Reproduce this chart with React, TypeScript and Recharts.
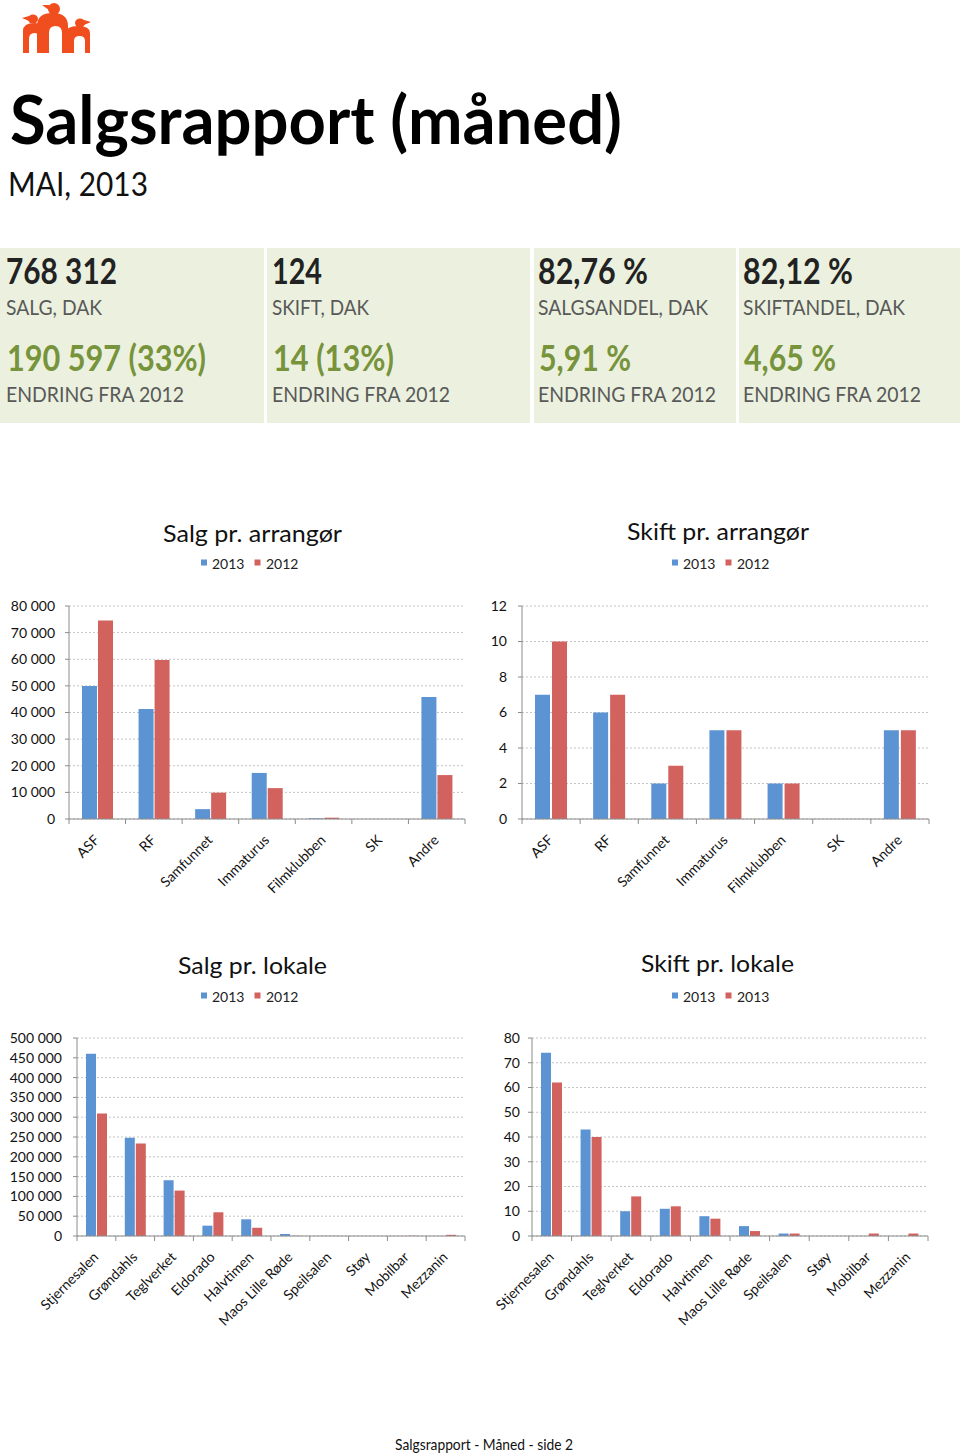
import React from 'react';
import { BarChart, Bar, XAxis, YAxis, CartesianGrid } from 'recharts';

// ---------- data ----------
const arrangorer = ['ASF', 'RF', 'Samfunnet', 'Immaturus', 'Filmklubben', 'SK', 'Andre'];
const salgArr2013 = [50000, 41300, 3700, 17300, 250, 0, 45800];
const salgArr2012 = [74600, 59700, 9900, 11600, 500, 0, 16500];
const skiftArr2013 = [7, 6, 2, 5, 2, 0, 5];
const skiftArr2012 = [10, 7, 3, 5, 2, 0, 5];

const lokaler = ['Stjernesalen', 'Grøndahls', 'Teglverket', 'Eldorado', 'Halvtimen', 'Maos Lille Røde', 'Speilsalen', 'Støy', 'Mobilbar', 'Mezzanin'];
const salgLok2013 = [460400, 247900, 140800, 26100, 42200, 5100, 300, 0, 0, 0];
const salgLok2012 = [309400, 233600, 114700, 59900, 21100, 500, 300, 0, 600, 3000];
const skiftLok2013 = [74, 43, 10, 11, 8, 4, 1, 0, 0, 0];
const skiftLok2012 = [62, 40, 16, 12, 7, 2, 1, 0, 1, 1];

const salgArrTicks = [0, 10000, 20000, 30000, 40000, 50000, 60000, 70000, 80000];
const skiftArrTicks = [0, 2, 4, 6, 8, 10, 12];
const salgLokTicks = [0, 50000, 100000, 150000, 200000, 250000, 300000, 350000, 400000, 450000, 500000];
const skiftLokTicks = [0, 10, 20, 30, 40, 50, 60, 70, 80];

const seriesNamesArr = ['2013', '2012'];
const seriesNamesSalgLok = ['2013', '2012'];
const seriesNamesSkiftLok = ['2013', '2013'];

const kpiValues = ['768 312', '124', '82,76 %', '82,12 %'];
const kpiLabels = ['SALG, DAK', 'SKIFT, DAK', 'SALGSANDEL, DAK', 'SKIFTANDEL, DAK'];
const kpiChanges = ['190 597 (33%)', '14 (13%)', '5,91 %', '4,65 %'];
const kpiChangeLabels = ['ENDRING FRA 2012', 'ENDRING FRA 2012', 'ENDRING FRA 2012', 'ENDRING FRA 2012'];

// ---------- layout / style ----------
const BLUE = '#5B93D3';
const RED = '#D2625E';
const AXIS = '#8C8C8C';
const FONT = 'Lato, "Open Sans", sans-serif';

const boxX = [0, 267, 534, 739];
const boxW = [264, 263, 202, 221];
const textX = [6, 272, 538, 743];
const valueW = [111, 50, 110, 110];
const labelW = [96, 97, 170, 162];
const changeW = [199, 121, 92, 92];
const changeLabelW = [178, 178, 178, 178];

const fmt = (v: number) => String(v).replace(/\B(?=(\d{3})+(?!\d))/g, ' ');

function makeXTick(band: number, n: number) {
  return (props: any) => {
    const { x, y, payload, index } = props;
    const ax = x + 3;
    const ay = y + 22;
    return (
      <g>
        <line x1={x - band / 2} x2={x - band / 2} y1={y} y2={y + 5} stroke={AXIS} />
        {index === n - 1 && <line x1={x + band / 2} x2={x + band / 2} y1={y} y2={y + 5} stroke={AXIS} />}
        <text x={ax} y={ay} textAnchor="end" transform={`rotate(-45 ${ax} ${ay})`} fontSize={14} fill="#111" fontFamily={FONT}>
          {payload.value}
        </text>
      </g>
    );
  };
}

type ChartProps = {
  left: number; top: number; width: number; height: number;
  mTop: number; mRight: number; yWidth: number; xHeight: number;
  cats: string[]; a: number[]; b: number[]; names: string[];
  yMax: number; yTicks: number[]; barSize: number; barGap: number; yTickMargin: number;
};

function Chart(p: ChartProps) {
  const data = p.cats.map((name, i) => ({ name, a: p.a[i], b: p.b[i] }));
  const plotW = p.width - p.mRight - p.yWidth;
  const band = plotW / data.length;
  return (
    <div style={{ position: 'absolute', left: p.left, top: p.top }}>
      <BarChart width={p.width} height={p.height} data={data}
        margin={{ top: p.mTop, right: p.mRight, left: 0, bottom: 0 }}
        barGap={p.barGap} barSize={p.barSize}>
        <CartesianGrid vertical={false} stroke="#C4C4C4" strokeDasharray="2 2" />
        <XAxis dataKey="name" interval={0} tickLine={false} tickSize={0} tickMargin={0}
          height={p.xHeight} axisLine={{ stroke: AXIS }} tick={makeXTick(band, data.length)} />
        <YAxis width={p.yWidth} domain={[0, p.yMax]} ticks={p.yTicks} interval={0}
          tickFormatter={fmt} tickSize={4} tickMargin={p.yTickMargin}
          axisLine={{ stroke: AXIS }} tickLine={{ stroke: AXIS }}
          tick={{ fontSize: 14, fill: '#111', fontFamily: FONT }} />
        <Bar dataKey="a" name={p.names[0]} fill={BLUE} isAnimationActive={false} />
        <Bar dataKey="b" name={p.names[1]} fill={RED} isAnimationActive={false} />
      </BarChart>
    </div>
  );
}

function Legend({ x, y, names }: { x: number; y: number; names: string[] }) {
  const colors = [BLUE, RED];
  return (
    <g>
      {names.map((n, i) => (
        <g key={i}>
          <rect x={x + i * 53.5} y={y - 9.5} width={6} height={6} fill={colors[i]} />
          <text x={x + 11 + i * 54} y={y} fontSize={14} fill="#222" fontFamily={FONT}>{n}</text>
        </g>
      ))}
    </g>
  );
}

function Logo() {
  const c = '#F04E1E';
  return (
    <g fill={c}>
      <path d="M23,53 L23,31 Q23,23 34.5,23 Q46,23 46,31 L46,53 L40,53 L40,39 Q40,33 34.5,33 Q29,33 29,39 L29,53 Z" />
      <ellipse cx={33} cy={19} rx={5} ry={4.5} />
      <polygon points="29,16 22,18 29,21" />
      <path d="M37,53 L37,26 Q37,13 52.5,13 Q68,13 68,26 L68,53 L62,53 L62,33 Q62,26 55.5,26 Q49,26 49,33 L49,53 Z" />
      <ellipse cx={54} cy={9} rx={6} ry={6} />
      <polygon points="49,5 42,5 49,10" />
      <path d="M66,53 L66,33 Q66,26 78,26 Q90,26 90,33 L90,53 L85,53 L85,41 Q85,36 79.5,36 Q74,36 74,41 L74,53 Z" />
      <ellipse cx={80} cy={23} rx={5} ry={4.5} />
      <polygon points="84,20 91,22 84,25" />
    </g>
  );
}

export default function App() {
  return (
    <div style={{ position: 'absolute', left: 0, top: 0, width: 960, height: 1453, background: '#fff', overflow: 'hidden' }}>
      <svg width={960} height={1453} style={{ position: 'absolute', left: 0, top: 0 }}>
        <Logo />
        <text x={10} y={144} fontSize={66} fontWeight={700} fill="#000" fontFamily={FONT}
          textLength={612} lengthAdjust="spacingAndGlyphs">Salgsrapport (måned)</text>
        <text x={8} y={196} fontSize={33} fill="#111" fontFamily={FONT}
          textLength={140} lengthAdjust="spacingAndGlyphs">MAI, 2013</text>

        {kpiValues.map((v, i) => (
          <g key={i}>
            <rect x={boxX[i]} y={248} width={boxW[i]} height={175} fill="#EBF1DE" />
            <text x={textX[i]} y={284} fontSize={36} fontWeight={700} fill="#222" fontFamily={FONT}
              textLength={valueW[i]} lengthAdjust="spacingAndGlyphs">{v}</text>
            <text x={textX[i]} y={315} fontSize={21} fill="#595959" fontFamily={FONT}
              textLength={labelW[i]} lengthAdjust="spacingAndGlyphs">{kpiLabels[i]}</text>
            <text x={textX[i] + 1} y={371} fontSize={36} fontWeight={700} fill="#77933C" fontFamily={FONT}
              textLength={changeW[i]} lengthAdjust="spacingAndGlyphs">{kpiChanges[i]}</text>
            <text x={textX[i]} y={402} fontSize={21} fill="#595959" fontFamily={FONT}
              textLength={changeLabelW[i]} lengthAdjust="spacingAndGlyphs">{kpiChangeLabels[i]}</text>
          </g>
        ))}

        <text x={163} y={542} fontSize={23} fill="#111" fontFamily={FONT} textLength={179} lengthAdjust="spacingAndGlyphs">Salg pr. arrangør</text>
        <Legend x={201} y={569} names={seriesNamesArr} />
        <text x={627} y={540} fontSize={23} fill="#111" fontFamily={FONT} textLength={182} lengthAdjust="spacingAndGlyphs">Skift pr. arrangør</text>
        <Legend x={672} y={569} names={seriesNamesArr} />
        <text x={178} y={974} fontSize={23} fill="#111" fontFamily={FONT} textLength={149} lengthAdjust="spacingAndGlyphs">Salg pr. lokale</text>
        <Legend x={201} y={1002} names={seriesNamesSalgLok} />
        <text x={641} y={972} fontSize={23} fill="#111" fontFamily={FONT} textLength={153} lengthAdjust="spacingAndGlyphs">Skift pr. lokale</text>
        <Legend x={672} y={1002} names={seriesNamesSkiftLok} />

        <text x={395} y={1450} fontSize={15} fill="#111" fontFamily={FONT} textLength={178} lengthAdjust="spacingAndGlyphs">Salgsrapport - Måned - side 2</text>
      </svg>

      <Chart left={0} top={590} width={480} height={310} mTop={16} mRight={15} yWidth={69} xHeight={81}
        cats={arrangorer} a={salgArr2013} b={salgArr2012} names={seriesNamesArr}
        yMax={80000} yTicks={salgArrTicks} barSize={15} barGap={1} yTickMargin={10} />
      <Chart left={480} top={590} width={480} height={310} mTop={16} mRight={31} yWidth={42} xHeight={81}
        cats={arrangorer} a={skiftArr2013} b={skiftArr2012} names={seriesNamesArr}
        yMax={12} yTicks={skiftArrTicks} barSize={15} barGap={2} yTickMargin={11} />
      <Chart left={0} top={1020} width={480} height={320} mTop={18} mRight={15} yWidth={77} xHeight={104}
        cats={lokaler} a={salgLok2013} b={salgLok2012} names={seriesNamesSalgLok}
        yMax={500000} yTicks={salgLokTicks} barSize={10} barGap={1} yTickMargin={11} />
      <Chart left={480} top={1020} width={480} height={320} mTop={18} mRight={32} yWidth={52} xHeight={104}
        cats={lokaler} a={skiftLok2013} b={skiftLok2012} names={seriesNamesSkiftLok}
        yMax={80} yTicks={skiftLokTicks} barSize={10} barGap={1} yTickMargin={8} />
    </div>
  );
}
